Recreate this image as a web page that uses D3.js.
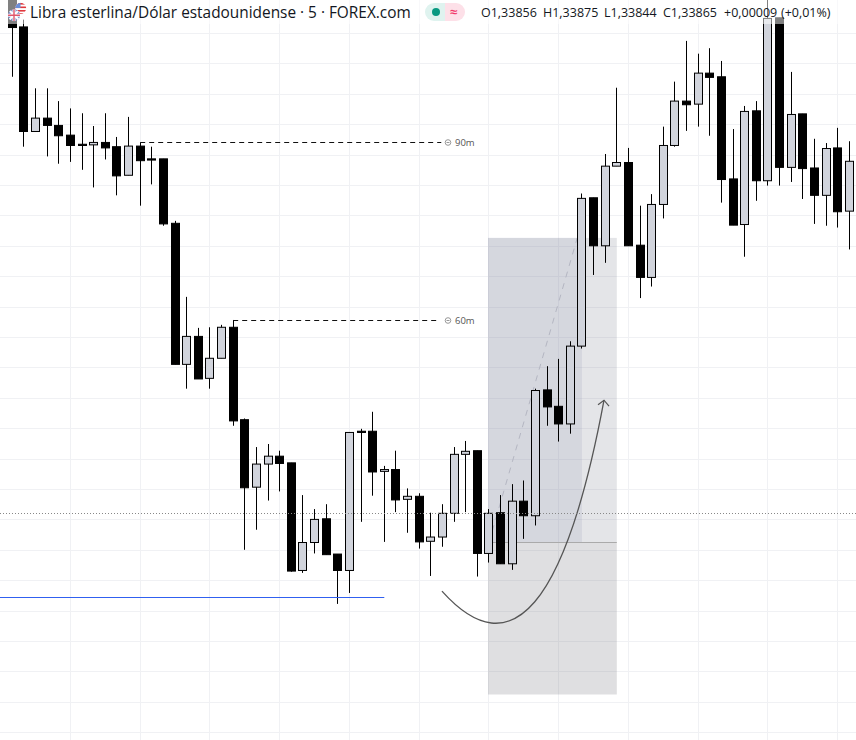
<!DOCTYPE html>
<html>
<head>
<meta charset="utf-8">
<script src="https://cdn.jsdelivr.net/npm/d3@7"></script>
<style>
  html, body { margin: 0; padding: 0; background: #fff; }
  svg { display: block; }
  text { font-family: "Open Sans", "Noto Sans", sans-serif; }
</style>
</head>
<body>
<div class="chart"></div>
<script>
// candles, one value per bar
const opens = [1.34737,1.34660,1.34488,1.34510,1.34498,1.34482,1.34467,1.34466,1.34470,1.34463,1.34416,1.34464,1.34443,1.34443,1.34337,1.34105,1.34151,1.34082,1.34115,1.34166,1.34014,1.33903,1.33941,1.33954,1.33943,1.33766,1.33812,1.33851,1.33793,1.33766,1.33995,1.33995,1.33929,1.33932,1.33883,1.33888,1.33814,1.33821,1.33860,1.33957,1.33963,1.33794,1.33861,1.33777,1.33880,1.33856,1.34063,1.34036,1.34007,1.34135,1.34379,1.34300,1.34431,1.34437,1.34301,1.34248,1.34368,1.34465,1.34538,1.34533,1.34584,1.34578,1.34410,1.34335,1.34522,1.34407,1.34675,1.34429,1.34517,1.34428,1.34383,1.34461,1.34357];
const highs = [1.34754,1.34672,1.34559,1.34559,1.34538,1.34526,1.34518,1.34497,1.34518,1.34479,1.34512,1.34470,1.34463,1.34443,1.34341,1.34216,1.34165,1.34166,1.34170,1.34178,1.34016,1.33969,1.33974,1.33963,1.33943,1.33890,1.33867,1.33875,1.33793,1.33993,1.33999,1.34027,1.33938,1.33963,1.33901,1.33893,1.33861,1.33875,1.33969,1.33979,1.33963,1.33867,1.33890,1.33908,1.33914,1.34065,1.34102,1.34114,1.34143,1.34386,1.34379,1.34451,1.34560,1.34461,1.34366,1.34385,1.34496,1.34570,1.34637,1.34616,1.34625,1.34604,1.34492,1.34530,1.34538,1.34754,1.34675,1.34586,1.34517,1.34476,1.34469,1.34494,1.34472];
const lows = [1.34578,1.34463,1.34488,1.34447,1.34435,1.34438,1.34425,1.34396,1.34442,1.34383,1.34416,1.34366,1.34401,1.34333,1.34105,1.34065,1.34081,1.34065,1.34115,1.34004,1.33800,1.33833,1.33881,1.33896,1.33764,1.33762,1.33794,1.33792,1.33711,1.33729,1.33846,1.33889,1.33813,1.33862,1.33828,1.33802,1.33757,1.33805,1.33846,1.33862,1.33756,1.33779,1.33777,1.33767,1.33818,1.33840,1.34004,1.33978,1.33991,1.34131,1.34252,1.34272,1.34431,1.34300,1.34214,1.34233,1.34345,1.34463,1.34489,1.34496,1.34481,1.34371,1.34334,1.34282,1.34374,1.34399,1.34399,1.34405,1.34377,1.34336,1.34333,1.34330,1.34294];
const closes = [1.34659,1.34488,1.34510,1.34498,1.34481,1.34465,1.34465,1.34470,1.34461,1.34415,1.34464,1.34440,1.34441,1.34336,1.34105,1.34151,1.34081,1.34115,1.34166,1.34012,1.33902,1.33941,1.33954,1.33942,1.33765,1.33812,1.33850,1.33792,1.33766,1.33993,1.33993,1.33928,1.33932,1.33882,1.33888,1.33813,1.33821,1.33860,1.33957,1.33962,1.33794,1.33860,1.33777,1.33880,1.33856,1.34062,1.34035,1.34007,1.34135,1.34378,1.34300,1.34431,1.34437,1.34300,1.34248,1.34368,1.34465,1.34538,1.34532,1.34584,1.34577,1.34409,1.34334,1.34521,1.34407,1.34674,1.34429,1.34516,1.34427,1.34383,1.34460,1.34356,1.34439];

// price grid and time grid
const gridPrices = d3.range(0, 24).map(k => +(1.3465 - k * 0.0005).toFixed(4));
const gridBars = [5, 11, 17, 23, 29, 35, 41, 47, 53, 59, 65, 71];

// things drawn on the chart
const lastPrice = 1.33860;
const supportLine = { price: 1.33722, from: -2, to: 32 };
const levels = [
  { label: "90m", price: 1.34470, from: 11, to: 36.9 },
  { label: "60m", price: 1.34178, from: 19, to: 36.7 }
];
const position = { from: 41, mid: 49, to: 52, target: 1.34313, entry: 1.33812, stop: 1.33562 };
const pathLine = { bar0: 41, price0: 1.33812, bar1: 48.6, price1: 1.34313 };
const curve = { bar: [36.96, 45.96, 50.9], price: [1.33732, 1.33540, 1.34046] };

// header texts
const title = "Libra esterlina/Dólar estadounidense · 5 · FOREX.com";
const quote = [
  ["O1,33856", 481], ["H1,33875", 543], ["L1,33844", 604], ["C1,33865", 663],
  ["+0,00009", 724], ["(+0,01%)", 781]
];

const svgWidth = 856, svgHeight = 740;
const black = "#000000", light = "#d1d4dc";

const svg = d3.select(".chart")
  .append("svg")
  .attr("width", svgWidth)
  .attr("height", svgHeight);

const x = d3.scaleLinear().domain([0, 72]).range([12.3, 849.3]);
const y = d3.scaleLinear().domain([1.3465, 1.3350]).range([33, 732.2]);
const barX = i => Math.floor(x(i)) + 0.5;

// grid
svg.append("g").selectAll("line")
  .data(gridPrices)
  .enter()
  .append("line")
  .attr("x1", 0).attr("x2", svgWidth)
  .attr("y1", d => Math.round(y(d)) + 0.5).attr("y2", d => Math.round(y(d)) + 0.5)
  .attr("stroke", "#f0f1f4");

svg.append("g").selectAll("line")
  .data(gridBars)
  .enter()
  .append("line")
  .attr("x1", barX).attr("x2", barX)
  .attr("y1", 0).attr("y2", svgHeight)
  .attr("stroke", "#f0f1f4");

// long position box
const box = svg.append("g");
const boxLeft = Math.floor(x(position.from));
box.append("rect")
  .attr("x", boxLeft).attr("width", x(position.to) - boxLeft)
  .attr("y", y(position.target)).attr("height", y(position.entry) - y(position.target))
  .attr("fill", "#787b8e").attr("opacity", 0.2);
box.append("rect")
  .attr("x", boxLeft).attr("width", x(position.mid) - boxLeft)
  .attr("y", y(position.target)).attr("height", y(position.entry) - y(position.target))
  .attr("fill", "#9aa0b8").attr("opacity", 0.2);
box.append("rect")
  .attr("x", boxLeft).attr("width", x(position.to) - boxLeft)
  .attr("y", y(position.entry)).attr("height", y(position.stop) - y(position.entry))
  .attr("fill", "#787882").attr("opacity", 0.24);
box.append("line")
  .attr("x1", boxLeft).attr("x2", x(position.to))
  .attr("y1", y(position.entry)).attr("y2", y(position.entry))
  .attr("stroke", "#aaaaaa").attr("stroke-width", 1);
box.append("line")
  .attr("x1", x(pathLine.bar0)).attr("y1", y(pathLine.price0))
  .attr("x2", x(pathLine.bar1)).attr("y2", y(pathLine.price1))
  .attr("stroke", "#b4b6c2").attr("stroke-dasharray", "6 6");

// candles
const bars = d3.range(opens.length);
const candles = svg.append("g");

candles.selectAll("line")
  .data(bars)
  .enter()
  .append("line")
  .attr("x1", barX).attr("x2", barX)
  .attr("y1", i => y(highs[i])).attr("y2", i => y(lows[i]))
  .attr("stroke", black);

candles.selectAll("rect")
  .data(bars)
  .enter()
  .append("rect")
  .attr("x", i => barX(i) - 4)
  .attr("width", 8)
  .attr("y", i => y(Math.max(opens[i], closes[i])))
  .attr("height", i => Math.abs(y(opens[i]) - y(closes[i])))
  .attr("fill", i => closes[i] >= opens[i] ? light : black)
  .attr("stroke", black);

// support line
svg.append("line")
  .attr("x1", x(supportLine.from)).attr("x2", x(supportLine.to))
  .attr("y1", Math.round(y(supportLine.price)) + 0.5).attr("y2", Math.round(y(supportLine.price)) + 0.5)
  .attr("stroke", "#3060f0");

// time levels
levels.forEach(l => {
  const ly = Math.round(y(l.price)) + 0.5;
  svg.append("line")
    .attr("x1", x(l.from)).attr("x2", x(l.to))
    .attr("y1", ly).attr("y2", ly)
    .attr("stroke", "#111").attr("stroke-dasharray", "5 4");
  svg.append("circle")
    .attr("cx", 448).attr("cy", ly).attr("r", 2.8)
    .attr("fill", "none").attr("stroke", "#999");
  svg.append("line")
    .attr("x1", 446.5).attr("x2", 449.5)
    .attr("y1", ly).attr("y2", ly)
    .attr("stroke", "#999");
  svg.append("text")
    .attr("x", 455).attr("y", ly + 3.5)
    .attr("font-size", 9.5).attr("fill", "#555")
    .text(l.label);
});

// curved arrow
const p = d3.path();
p.moveTo(x(curve.bar[0]), y(curve.price[0]));
p.quadraticCurveTo(x(curve.bar[1]), y(curve.price[1]), x(curve.bar[2]), y(curve.price[2]));
svg.append("path")
  .attr("d", p.toString())
  .attr("fill", "none").attr("stroke", "#555").attr("stroke-width", 1.3);

const tipX = x(curve.bar[2]), tipY = y(curve.price[2]);
svg.append("path")
  .attr("d", `M${tipX - 6},${tipY + 4.5}L${tipX},${tipY}L${tipX + 5},${tipY + 6}`)
  .attr("fill", "none").attr("stroke", "#555").attr("stroke-width", 1.2);

// last price line
svg.append("line")
  .attr("x1", 0).attr("x2", svgWidth)
  .attr("y1", Math.round(y(lastPrice)) + 0.5).attr("y2", Math.round(y(lastPrice)) + 0.5)
  .attr("stroke", "#888").attr("stroke-dasharray", "1 2");

// header, half covers the candles under it
svg.append("rect")
  .attr("x", 0).attr("y", 0)
  .attr("width", svgWidth).attr("height", 24)
  .attr("fill", "#fff").attr("opacity", 0.5);

// flags
const flagDefs = svg.append("defs");
flagDefs.append("clipPath").attr("id", "us").append("circle").attr("cx", 20.7).attr("cy", 8.3).attr("r", 5.5);
flagDefs.append("clipPath").attr("id", "uk").append("circle").attr("cx", 14).attr("cy", 15.3).attr("r", 6);

const us = svg.append("g").attr("clip-path", "url(#us)");
us.append("rect").attr("x", 15).attr("y", 2).attr("width", 12).attr("height", 13).attr("fill", "#fff");
[3, 6.5, 10, 13].forEach(s => {
  us.append("rect").attr("x", 15).attr("y", s).attr("width", 12).attr("height", 1.6).attr("fill", "#e0393e");
});
us.append("rect").attr("x", 15).attr("y", 2).attr("width", 5.5).attr("height", 6).attr("fill", "#6a8fd8");

const uk = svg.append("g").attr("clip-path", "url(#uk)");
uk.append("rect").attr("x", 7).attr("y", 9).attr("width", 14).attr("height", 13).attr("fill", "#7f8fc9");
uk.append("path").attr("d", "M8,9L20,21M20,9L8,21").attr("stroke", "#fff").attr("stroke-width", 2);
uk.append("path").attr("d", "M14,9V21M8,15.3H20").attr("stroke", "#fff").attr("stroke-width", 3);
uk.append("path").attr("d", "M14,9V21M8,15.3H20").attr("stroke", "#e0556b").attr("stroke-width", 1.4);

svg.append("text")
  .attr("x", 30).attr("y", 18)
  .attr("font-size", 15.4).attr("fill", "#131722")
  .text(title);

// status pill
svg.append("path").attr("d", "M445,3H434a9,9 0 0 0 0,18H445Z").attr("fill", "#dff3ef");
svg.append("path").attr("d", "M445,3H456a9,9 0 0 1 0,18H445Z").attr("fill", "#fde0e8");
svg.append("circle").attr("cx", 436).attr("cy", 12).attr("r", 4).attr("fill", "#089981");
svg.append("text")
  .attr("x", 454).attr("y", 17).attr("text-anchor", "middle")
  .attr("font-size", 14).attr("font-weight", 600).attr("fill", "#f23669")
  .text("≈");

svg.append("g").selectAll("text")
  .data(quote)
  .enter()
  .append("text")
  .attr("x", d => d[1]).attr("y", 17)
  .attr("font-size", 12.5).attr("fill", "#131722")
  .text(d => d[0]);
</script>
</body>
</html>
